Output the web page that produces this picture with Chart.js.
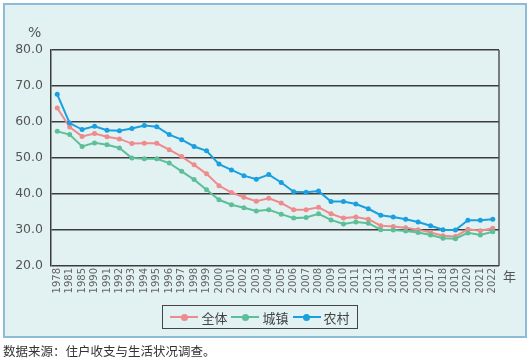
<!DOCTYPE html>
<html><head><meta charset="utf-8">
<script src="https://cdn.jsdelivr.net/npm/chart.js@4/dist/chart.umd.min.js"></script>
<style>
html,body{margin:0;padding:0;background:#fff;width:532px;height:360px;overflow:hidden;font-family:"DejaVu Sans",sans-serif;}
#box{position:absolute;left:3px;top:3px;width:524px;height:335px;box-sizing:border-box;border:2px solid #8dbcd8;background:#e2f2f2;}
#wrap{position:absolute;left:0;top:0;width:532px;height:360px;}
.t{position:absolute;color:#555;white-space:nowrap;}
#pct{left:28px;top:24px;font-size:14px;}
#nian{left:503px;top:266px;font-size:13px;font-family:"Noto Sans CJK SC",sans-serif;}
#src{left:3px;top:341px;font-size:12.5px;color:#333;font-family:"Noto Sans CJK SC",sans-serif;}
#legend{position:absolute;left:162px;top:305px;width:196px;height:24px;box-sizing:border-box;border:1.5px solid #444;display:flex;align-items:center;justify-content:center;font-family:"Noto Sans CJK SC",sans-serif;font-size:13px;color:#444;white-space:nowrap;}
.li{display:flex;align-items:center;margin:0 2px;flex-shrink:0;white-space:nowrap;}
.sym{position:relative;width:28px;height:10px;margin-right:3px;flex-shrink:0;}
.sym .ln{position:absolute;left:0;top:4px;width:28px;height:2px;}
.sym .dt{position:absolute;left:10.5px;top:1.5px;width:7px;height:7px;border-radius:50%;}
</style></head>
<body>
<div id="box"></div>
<div id="wrap"><canvas id="c" width="532" height="360"></canvas></div>
<div class="t" id="pct">%</div>
<div class="t" id="nian">年</div>
<div id="legend"></div>
<div class="t" id="src">数据来源：住户收支与生活状况调查。</div>
<script>
const years = ['1978','1981','1985','1990','1991','1992','1993','1994','1995','1996','1997','1998','1999','2000','2001','2002','2003','2004','2005','2006','2007','2008','2009','2010','2011','2012','2013','2014','2015','2016','2017','2018','2019','2020','2021','2022'];
const seriesNames = ['全体','城镇','农村'];
const overall = [63.9,58.6,56.0,56.8,55.9,55.3,54.0,54.1,54.1,52.3,50.4,48.1,45.6,42.3,40.4,39.1,38.0,38.8,37.5,35.6,35.6,36.3,34.5,33.3,33.6,33.0,31.2,31.0,30.6,30.1,29.3,28.4,28.2,30.2,29.8,30.5];
const urban = [57.4,56.5,53.2,54.2,53.7,52.8,50.0,49.8,49.8,48.6,46.3,44.0,41.2,38.4,37.0,36.2,35.3,35.6,34.4,33.3,33.5,34.5,32.8,31.7,32.2,31.9,30.1,30.0,29.7,29.3,28.6,27.7,27.6,29.2,28.6,29.5];
const rural = [67.7,59.7,57.9,58.8,57.7,57.6,58.2,59.0,58.7,56.5,55.1,53.2,52.0,48.3,46.7,45.1,44.1,45.4,43.2,40.6,40.5,40.8,37.9,37.9,37.2,35.9,34.1,33.6,33.0,32.2,31.2,30.1,30.0,32.7,32.7,33.0];
const yTicks = [20,30,40,50,60,70,80];

const colors = ['#ef8b8c','#5dbf98','#1a9fe0'];
const allData = [overall, urban, rural];

// HTML legend
const lg = document.getElementById('legend');
seriesNames.forEach((n,i)=>{
  const d=document.createElement('div');d.className='li';
  d.innerHTML='<span class="sym"><span class="ln" style="background:'+colors[i]+'"></span><span class="dt" style="background:'+colors[i]+'"></span></span><span>'+n+'</span>';
  lg.appendChild(d);
});

const frame = {
  id:'frame',
  afterDraw(chart){
    const {ctx, chartArea:a} = chart;
    ctx.save();
    ctx.strokeStyle='#555';ctx.lineWidth=1.5;
    ctx.beginPath();
    ctx.moveTo(a.right,a.top);ctx.lineTo(a.right,a.bottom);
    ctx.stroke();
    ctx.restore();
  }
};

new Chart(document.getElementById('c'), {
  type:'line',
  data:{
    labels: years,
    datasets: seriesNames.map((n,i)=>({
      label:n, data:allData[i], borderColor:colors[i], backgroundColor:colors[i],
      borderWidth:2, pointRadius:2.5, pointBorderWidth:0, pointBackgroundColor:colors[i],
      tension:0, order: 3-i
    }))
  },
  options:{
    responsive:false, animation:false,
    layout:{padding:{left:0,top:50,right:33,bottom:60}},
    plugins:{legend:{display:false}, tooltip:{enabled:false}},
    scales:{
      x:{
        offset:true,
        grid:{display:false, drawTicks:false},
        border:{display:false},
        ticks:{autoSkip:false, maxRotation:90, minRotation:90, padding:2, color:'#666', font:{family:'DejaVu Sans', size:10}},
        afterFit(s){ s.height = 34; }
      },
      y:{
        min:20, max:80,
        afterBuildTicks(s){ s.ticks = yTicks.map(v=>({value:v})); },
        grid:{color:'#3c3c3c', lineWidth:1.5, drawTicks:false},
        border:{display:true, color:'#3c3c3c', width:1.5},
        ticks:{padding:8, color:'#555', font:{family:'DejaVu Sans', size:12.5}, callback:v=>Number(v).toFixed(1)},
        afterFit(s){ s.width = 51; }
      }
    }
  },
  plugins:[frame]
});
</script>
</body></html>
